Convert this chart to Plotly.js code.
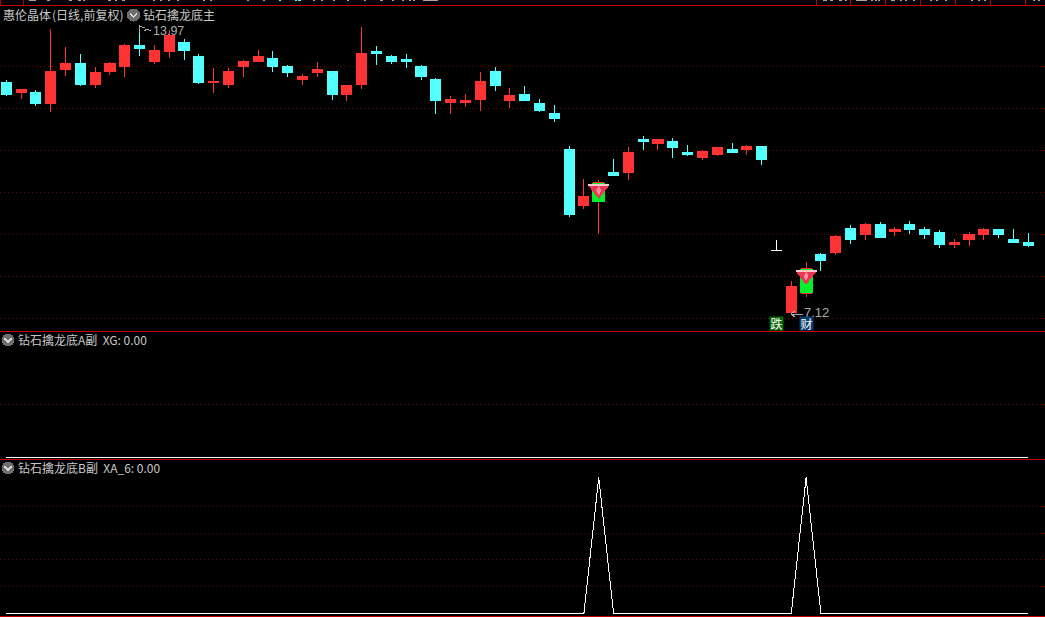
<!DOCTYPE html>
<html><head><meta charset="utf-8">
<script src="https://cdn.plot.ly/plotly-3.0.1.min.js"></script>
<style>
html,body{margin:0;padding:0;background:#000;overflow:hidden}
#chart path{shape-rendering:crispEdges}
</style></head><body><div id="chart" style="width:1045px;height:617px"></div>
<script>
// Daily candles
const open  = [12.62,12.38,12.40,12.12,12.93,13.09,12.57,12.88,13.00,13.50,13.12,13.36,13.59,13.26,12.62,12.57,13.00,13.12,13.21,13.02,12.69,12.86,12.88,12.35,12.57,13.36,13.24,13.17,13.00,12.71,12.16,12.14,12.23,12.88,12.21,12.35,12.12,11.88,11.02,9.70,9.78,10.47,10.49,11.26,11.18,11.23,10.95,10.83,10.90,11.04,11.04,11.09,8.62,7.13,7.60,8.53,8.56,9.15,9.01,9.23,9.06,9.25,9.11,9.04,8.75,8.89,9.01,9.13,8.89,8.82];
const high  = [12.69,12.45,12.45,13.91,13.48,13.31,13.00,13.12,13.55,13.97,13.52,13.88,13.67,13.31,12.97,12.97,13.17,13.40,13.38,13.05,12.83,13.12,12.90,12.55,13.95,13.50,13.28,13.31,13.05,12.73,12.31,12.35,12.88,13.00,12.50,12.55,12.23,12.09,11.11,10.32,10.30,10.80,11.09,11.35,11.28,11.30,11.14,11.02,11.09,11.18,11.14,11.09,8.87,7.89,8.34,8.56,8.99,9.23,9.27,9.30,9.18,9.32,9.18,9.11,8.89,9.06,9.16,9.13,9.13,9.04];
const low   = [12.31,12.23,12.07,11.92,12.78,12.55,12.50,12.81,12.76,13.26,13.07,13.21,13.17,12.59,12.38,12.50,12.76,13.12,12.88,12.76,12.57,12.76,12.21,12.19,12.47,13.05,13.07,12.97,12.69,11.88,11.88,12.04,11.95,12.43,12.02,12.19,11.92,11.69,9.42,9.61,9.01,10.42,10.30,11.02,11.02,10.83,10.87,10.78,10.87,10.95,10.90,10.66,8.62,7.12,7.51,8.13,8.51,8.77,8.87,8.92,8.96,9.01,8.89,8.68,8.68,8.73,8.87,8.92,8.80,8.70];
const close = [12.33,12.45,12.12,12.90,13.07,12.59,12.86,13.07,13.50,13.43,13.38,13.74,13.38,12.62,12.66,12.90,13.12,13.26,13.00,12.86,12.78,12.93,12.35,12.55,13.31,13.31,13.12,13.14,12.76,12.19,12.23,12.19,12.66,12.55,12.31,12.19,11.97,11.76,9.47,9.90,10.23,10.42,10.95,11.21,11.26,11.07,10.90,10.97,11.07,10.95,11.09,10.80,8.62,7.75,8.18,8.37,8.96,8.87,9.23,8.92,9.13,9.11,8.99,8.77,8.80,9.01,9.13,8.99,8.82,8.73];
// Days drawn in their own colour
const dojiDays = [52];
const signalDays = [40,54];
const signalMarks = [10.05,8.00];
const signalTops = [10.18,8.13];
// Indicator panes
const xgValues = [0,0,0,0,0,0,0,0,0,0,0,0,0,0,0,0,0,0,0,0,0,0,0,0,0,0,0,0,0,0,0,0,0,0,0,0,0,0,0,0,0,0,0,0,0,0,0,0,0,0,0,0,0,0,0,0,0,0,0,0,0,0,0,0,0,0,0,0,0,0];
const xa6Values = [0,0,0,0,0,0,0,0,0,0,0,0,0,0,0,0,0,0,0,0,0,0,0,0,0,0,0,0,0,0,0,0,0,0,0,0,0,0,0,0,5.08,0,0,0,0,0,0,0,0,0,0,0,0,0,5.08,0,0,0,0,0,0,0,0,0,0,0,0,0,0,0];
const priceGrid = [7,8,9,10,11,12,13];
const xgGrid = [0.5];
const xa6Grid = [1,2,3,4];
const extremes = {high:13.97, low:7.12};
// Cut-off header strip at the very top edge
const stripGray = [[29,36],[47,50],[69,72],[78,81],[83,85],[108,111],[115,117],[122,125],[153,155],[160,162],[168,170],[177,179],[203,205],[210,212],[247,249],[263,265],[313,315],[321,323],[333,335],[347,349],[364,366],[380,383],[392,394],[402,404],[409,411],[413,415],[423,438],[823,827],[830,833],[839,842],[845,847],[856,867],[871,873],[875,877],[878,880],[891,895],[900,902],[905,907],[913,915],[930,932],[936,938],[945,947],[971,973],[978,980],[984,986],[1033,1035],[1038,1040]];
const stripCyan = [[279,281],[295,297],[298,301]];
const stripTicks = [0.5,23.3,816.7,850.7,885.7,920.7,955.7,990.7,1025.7];

const W=1045,H=617;
const RED='#ff3333',CYAN='#54ffff',GRID='#6e0000',FRAME='#c00000',TXT='#c8c8c8',LBL='#aaaaaa';
const days=open.map((_,i)=>i);
const py=p=>1-p/H;
const plain=new Set(dojiDays);
const pick=(a,keep)=>a.filter((_,i)=>keep(i));
const isMain=i=>!plain.has(i);
const isDoji=i=>plain.has(i);

const traces=[
 {type:'candlestick',x:pick(days,isMain),open:pick(open,isMain),high:pick(high,isMain),low:pick(low,isMain),close:pick(close,isMain),
  increasing:{line:{color:RED,width:1},fillcolor:RED},decreasing:{line:{color:CYAN,width:1},fillcolor:CYAN},whiskerwidth:0,xaxis:'x',yaxis:'y',hoverinfo:'skip'},
 {type:'candlestick',x:pick(days,isDoji),open:pick(open,isDoji),high:pick(high,isDoji),low:pick(low,isDoji),close:pick(close,isDoji),
  increasing:{line:{color:'#fff',width:1},fillcolor:'#fff'},decreasing:{line:{color:'#fff',width:1},fillcolor:'#fff'},whiskerwidth:0,xaxis:'x',yaxis:'y',hoverinfo:'skip'},
 {type:'scatter',mode:'lines',x:signalDays.flatMap(d=>[d,d,null]),y:signalDays.flatMap(d=>[open[d],close[d],null]),
  line:{color:'#00f02c',width:13},xaxis:'x',yaxis:'y',hoverinfo:'skip'},
 {type:'scatter',mode:'markers',x:signalDays,y:signalMarks,marker:{symbol:'triangle-down',size:17,color:'#ee3450',line:{width:0}},xaxis:'x',yaxis:'y',hoverinfo:'skip'},
 {type:'scatter',mode:'markers',x:signalDays,y:signalMarks,marker:{symbol:'diamond-tall',size:7,color:'#ff8c9c',line:{width:0}},xaxis:'x',yaxis:'y',hoverinfo:'skip'},
 {type:'scatter',mode:'markers',x:signalDays,y:signalTops,marker:{symbol:'line-ew',size:15,color:'#ffc4cc',line:{color:'#ffc4cc',width:2}},xaxis:'x',yaxis:'y',hoverinfo:'skip'},
 {type:'scatter',mode:'lines',x:days,y:xgValues,line:{color:'#fff',width:1},xaxis:'x',yaxis:'y2',hoverinfo:'skip'},
 {type:'scatter',mode:'lines',x:days,y:xa6Values,line:{color:'#fff',width:1},xaxis:'x',yaxis:'y3',hoverinfo:'skip'}
];
const gridAxis=(top,bottom,range,vals)=>({domain:[py(bottom),py(top)],range,tickmode:'array',tickvals:vals,showticklabels:false,ticks:'',
  showgrid:true,gridcolor:GRID,griddash:'1px,3px',gridwidth:1,zeroline:false,showline:false,fixedrange:true});
const note=(text,x,y,size,color,extra)=>Object.assign({text,xref:'paper',yref:'paper',x:x/W,y:py(y),xanchor:'left',yanchor:'middle',showarrow:false,borderpad:0,
  font:{family:'"Noto Sans CJK SC","Liberation Sans",sans-serif',size:size,color:color}},extra||{});
const hline=y=>({type:'line',xref:'paper',yref:'paper',x0:0,x1:1,y0:py(y),y1:py(y),line:{color:FRAME,width:1}});
const vtick=x=>({type:'line',xref:'paper',yref:'paper',x0:x/W,x1:x/W,y0:py(0),y1:py(5),line:{color:FRAME,width:1}});
const chip=(s,color)=>({type:'line',xref:'paper',yref:'paper',x0:s[0]/W,x1:s[1]/W,y0:py(0.5),y1:py(0.5),line:{color,width:1}});
const badge=(cx,cy)=>[
 {type:'circle',xref:'paper',yref:'paper',x0:(cx-6.5)/W,x1:(cx+6.5)/W,y0:py(cy+6.5),y1:py(cy-6.5),fillcolor:'#6e6e6e',line:{width:0}},
 {type:'path',xref:'paper',yref:'paper',path:`M ${(cx-3.5)/W} ${py(cy-1.5)} L ${cx/W} ${py(cy+2)} L ${(cx+3.5)/W} ${py(cy-1.5)}`,line:{color:'#d8d8d8',width:1.5}}
];
const scribble=(d)=>({type:'path',xref:'paper',yref:'paper',path:d,line:{color:LBL,width:1}});
const layout={
 width:W,height:H,margin:{l:0,r:0,t:0,b:0,pad:0},paper_bgcolor:'#000',plot_bgcolor:'#000',showlegend:false,hovermode:false,dragmode:false,
 boxgap:0.15,boxgroupgap:0.2,
 xaxis:{range:[-0.425,70.13],showgrid:false,zeroline:false,showline:false,showticklabels:false,ticks:'',rangeslider:{visible:false},fixedrange:true,domain:[0,1]},
 yaxis:gridAxis(5.3,331.3,[6.69,14.47],priceGrid),
 yaxis2:gridAxis(331.3,459.3,[-0.019,1.189],xgGrid),
 yaxis3:gridAxis(459.3,616,[-0.1,5.76],xa6Grid),
 shapes:[hline(5.3),hline(331.3),hline(459.3),hline(616),
  ...stripTicks.map(vtick),
  ...stripGray.map(s=>chip(s,'#a8a8a8')),...stripCyan.map(s=>chip(s,CYAN)),
  ...badge(133.5,15),...badge(8,340),...badge(8,468),
  scribble(`M ${139.5/W} ${py(33)} L ${139.5/W} ${py(26)} L ${145/W} ${py(28)} M ${144/W} ${py(31)} L ${147/W} ${py(29)} L ${151/W} ${py(31)}`),
  scribble(`M ${795/W} ${py(311)} L ${791/W} ${py(314)} L ${795/W} ${py(317)} M ${791/W} ${py(314)} L ${803/W} ${py(314)}`)
 ],
 annotations:[
  note('惠伦晶体',2,14,12,TXT),
  note('(日线,前复权)',51,14,12,TXT),
  note('钻石擒龙底主',142,14,12,TXT),
  note('钻石擒龙底A副  XG: 0.00',17,339,12,TXT),
  note('钻石擒龙底B副  XA_6: 0.00',17,467,12,TXT),
  {text:extremes.high.toFixed(2),xref:'x',yref:'y',x:9.87,y:extremes.high-0.12,xanchor:'left',yanchor:'middle',showarrow:false,borderpad:0,font:{family:'"Liberation Sans"',size:12.5,color:LBL}},
  {text:extremes.low.toFixed(2),xref:'x',yref:'y',x:53.8,y:extremes.low+0.01,xanchor:'left',yanchor:'middle',showarrow:false,borderpad:0,font:{family:'"Liberation Sans"',size:13,color:LBL}},
  {text:'跌',xref:'x',yref:'y',x:52,y:6.88,xanchor:'center',yanchor:'middle',showarrow:false,bgcolor:'#0a6a0a',borderpad:0,width:13,height:13,font:{family:'"Noto Sans CJK SC"',size:12,color:'#fff'}},
  {text:'财',xref:'x',yref:'y',x:54,y:6.88,xanchor:'center',yanchor:'middle',showarrow:false,bgcolor:'#0b3c70',borderpad:0,width:13,height:13,font:{family:'"Noto Sans CJK SC"',size:12,color:'#fff'}}
 ]
};
Plotly.newPlot('chart',traces,layout,{displayModeBar:false,staticPlot:true});
</script></body></html>
